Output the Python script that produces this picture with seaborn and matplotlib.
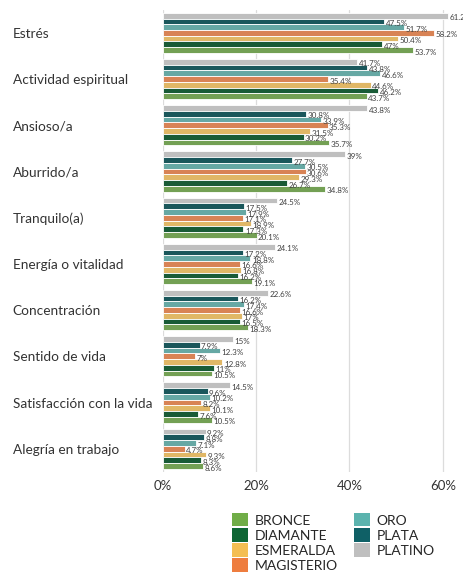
import matplotlib
matplotlib.use("Agg")
import matplotlib.pyplot as plt
from matplotlib.patches import Patch
import seaborn as sns
import pandas as pd

# Categories, top to bottom
categories = [
    "Estrés", "Actividad espiritual", "Ansioso/a", "Aburrido/a", "Tranquilo(a)",
    "Energía o vitalidad", "Concentración", "Sentido de vida",
    "Satisfacción con la vida", "Alegría en trabajo",
]

# Percentages per group
platino    = [61.2, 41.7, 43.8, 39.0, 24.5, 24.1, 22.6, 15.0, 14.5, 9.2]
plata      = [47.5, 43.8, 30.8, 27.7, 17.5, 17.2, 16.2, 7.9, 9.6, 8.8]
oro        = [51.7, 46.6, 33.9, 30.5, 17.9, 18.8, 17.4, 12.3, 10.2, 7.1]
magisterio = [58.2, 35.4, 35.3, 30.6, 17.1, 16.6, 16.6, 7.0, 8.2, 4.7]
esmeralda  = [50.4, 44.6, 31.5, 29.3, 18.9, 16.8, 17.0, 12.8, 10.1, 9.3]
diamante   = [47.0, 46.2, 30.2, 26.7, 17.3, 16.2, 16.5, 11.0, 7.6, 8.3]
bronce     = [53.7, 43.7, 35.7, 34.8, 20.1, 19.1, 18.3, 10.5, 10.5, 8.6]

groups = ["PLATINO", "PLATA", "ORO", "MAGISTERIO", "ESMERALDA", "DIAMANTE", "BRONCE"]
series = [platino, plata, oro, magisterio, esmeralda, diamante, bronce]
colors = {
    "BRONCE": "#70AD47",
    "DIAMANTE": "#0E6634",
    "ESMERALDA": "#F4BE52",
    "MAGISTERIO": "#EE7D3F",
    "ORO": "#5BB3AE",
    "PLATA": "#0F6066",
    "PLATINO": "#BFBFBF",
}
legend_order = ["BRONCE", "DIAMANTE", "ESMERALDA", "MAGISTERIO", "ORO", "PLATA", "PLATINO"]
x_ticks = [0, 20, 40, 60]
x_tick_labels = ["0%", "20%", "40%", "60%"]

rows = []
for g, vals in zip(groups, series):
    for c, v in zip(categories, vals):
        rows.append({"categoria": c, "grupo": g, "valor": v})
df = pd.DataFrame(rows)

sns.set_style("white")
plt.rcParams["font.family"] = ["Lato", "DejaVu Sans"]

fig = plt.figure(figsize=(4.63, 5.74), dpi=100)
ax = fig.add_axes([0.3515, 0.178, 0.625, 0.805])

sns.barplot(
    data=df, y="categoria", x="valor", hue="grupo",
    order=categories, hue_order=groups, palette=colors,
    orient="h", width=0.87, edgecolor="white", linewidth=0.6,
    legend=False, ax=ax,
)


def fmt(v):
    return f"{v:.0f}%" if float(v).is_integer() else f"{v:.1f}%"


for cont, vals in zip(ax.containers, series):
    texts = ax.bar_label(cont, labels=[fmt(v) for v in vals], padding=1,
                         fontsize=5.8, color="#404040")
    for t in texts:
        t.xyann = (t.xyann[0], -1.5)

ax.set_xlim(0, 62)
ax.set_ylim(len(categories) - 0.5, -0.5)
ax.set_xticks(x_ticks)
ax.set_xticklabels(x_tick_labels, fontsize=9.5, color="#333333")
ax.grid(axis="x", color="#dcdcdc", linewidth=0.9)
ax.set_axisbelow(True)
for s in ax.spines.values():
    s.set_visible(False)
ax.set_xlabel("")
ax.set_ylabel("")
ax.tick_params(axis="x", length=0, pad=6)
ax.tick_params(axis="y", length=0, pad=108)
for lbl in ax.get_yticklabels():
    lbl.set_horizontalalignment("left")
    lbl.set_fontsize(9.8)
    lbl.set_color("#333333")

handles = [Patch(facecolor=colors[g], edgecolor="none") for g in legend_order]
fig.legend(
    handles, legend_order, ncol=2, loc="upper left",
    bbox_to_anchor=(0.502, 0.106), frameon=False,
    fontsize=10, handlelength=1.1, handleheight=1.1,
    handletextpad=0.5, columnspacing=1.2, labelspacing=0.12,
    borderpad=0, borderaxespad=0,
)

fig.savefig("out.png", dpi=100)
